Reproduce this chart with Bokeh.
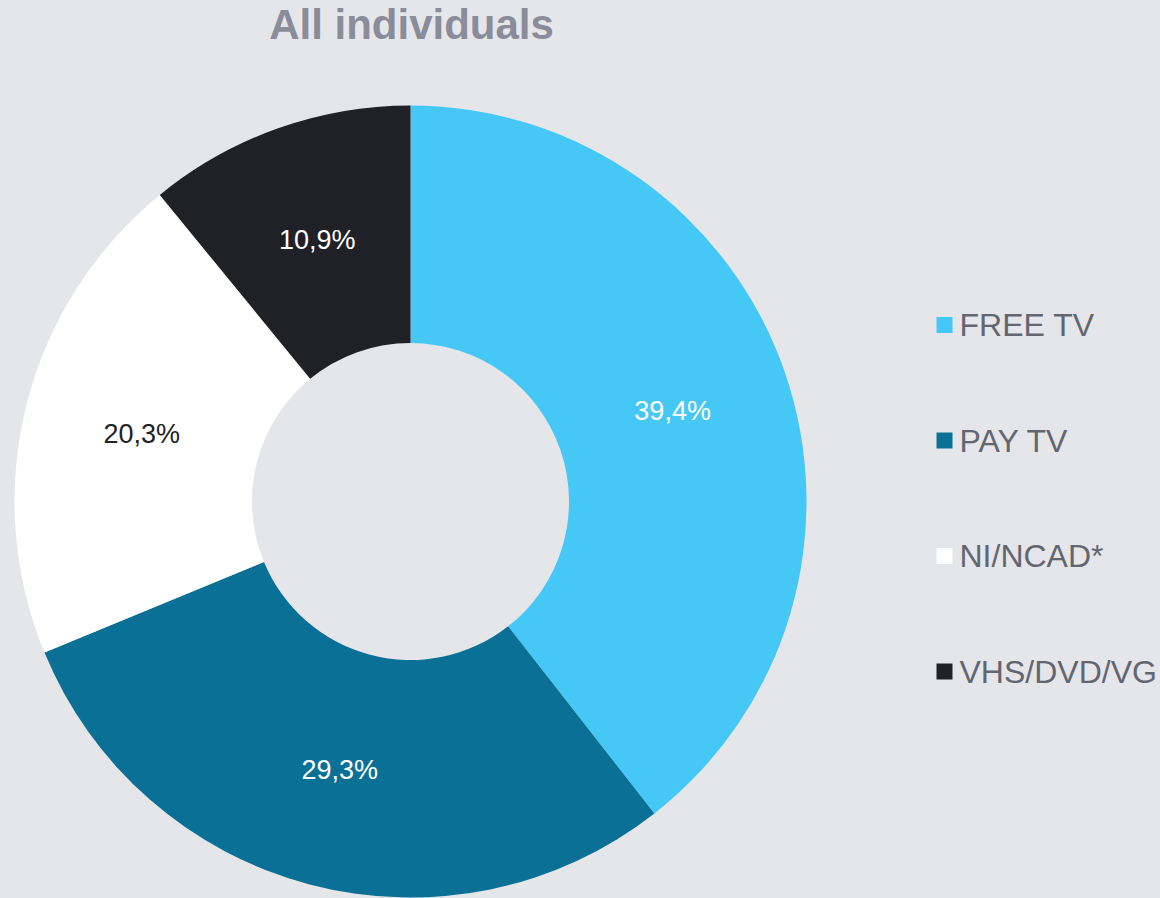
import math
from bokeh.plotting import figure
from bokeh.models import Range1d, ColumnDataSource
from bokeh.core.properties import value
from bokeh.embed import file_html
from bokeh.resources import INLINE

# ---- data ----
categories = ["FREE TV", "PAY TV", "NI/NCAD*", "VHS/DVD/VG"]
shares = [39.4, 29.3, 20.3, 10.9]
colors = ["#46C8F6", "#0B7095", "#FFFFFF", "#202126"]
label_colors = ["#FFFFFF", "#FFFFFF", "#222222", "#FFFFFF"]
title_text = "All individuals"

BG = "#E5E6EA"
W, H = 1160, 898
FONT = "Liberation Sans"

p = figure(width=W, height=H, x_range=Range1d(0, W), y_range=Range1d(0, H),
           output_backend="svg", toolbar_location=None, min_border=0)
p.axis.visible = False
p.grid.visible = False
p.outline_line_color = None
p.background_fill_color = BG
p.border_fill_color = BG

# donut geometry (pixel units)
cx, cy = 410, H - 501
r_out, r_in = 396, 158.5

total = sum(shares)
starts, ends, lx, ly, labels = [], [], [], [], []
cum = 0.0
for v in shares:
    a0 = math.pi / 2 - 2 * math.pi * cum / total
    cum += v
    a1 = math.pi / 2 - 2 * math.pi * cum / total
    starts.append(a0)
    ends.append(a1)
    mid = (a0 + a1) / 2
    rr = (r_out + r_in) / 2
    lx.append(cx + rr * math.cos(mid))
    ly.append(cy + rr * math.sin(mid))
    labels.append(("%.1f" % v).replace(".", ",") + "%")

src = ColumnDataSource(dict(start=starts, end=ends, color=colors,
                            lx=lx, ly=ly, label=labels, lc=label_colors))

p.annular_wedge(x=cx, y=cy, inner_radius=r_in, outer_radius=r_out,
                start_angle="start", end_angle="end", direction="clock",
                fill_color="color", line_color=None, source=src)

p.text(x="lx", y="ly", text="label", text_color="lc", source=src,
       text_font=value(FONT), text_font_size="27px",
       text_align="center", text_baseline="middle")

# title
p.text(x=[cx + 1], y=[H - 24], text=[title_text], text_font=value(FONT),
       text_font_size="42px", text_font_style="bold", text_color="#8A8C9A",
       text_align="center", text_baseline="middle")

# legend (manual)
leg_x = 944
leg_y0 = H - 324.5
leg_step = 115.5
leg_ys = [leg_y0 - i * leg_step for i in range(len(categories))]
leg_src = ColumnDataSource(dict(x=[leg_x] * len(categories), y=leg_ys,
                                tx=[leg_x + 15] * len(categories),
                                name=categories, color=colors))
p.scatter(x="x", y="y", marker="square", size=16, fill_color="color",
          line_color=None, source=leg_src)
p.text(x="tx", y="y", text="name", source=leg_src, text_font=value(FONT),
       text_font_size="32px", text_color="#63666F",
       text_align="left", text_baseline="middle")

html = file_html(p, INLINE)
html = html.replace("</head>", "<style>body{background:%s;}</style></head>" % BG, 1)
open("out.html", "w").write(html)
